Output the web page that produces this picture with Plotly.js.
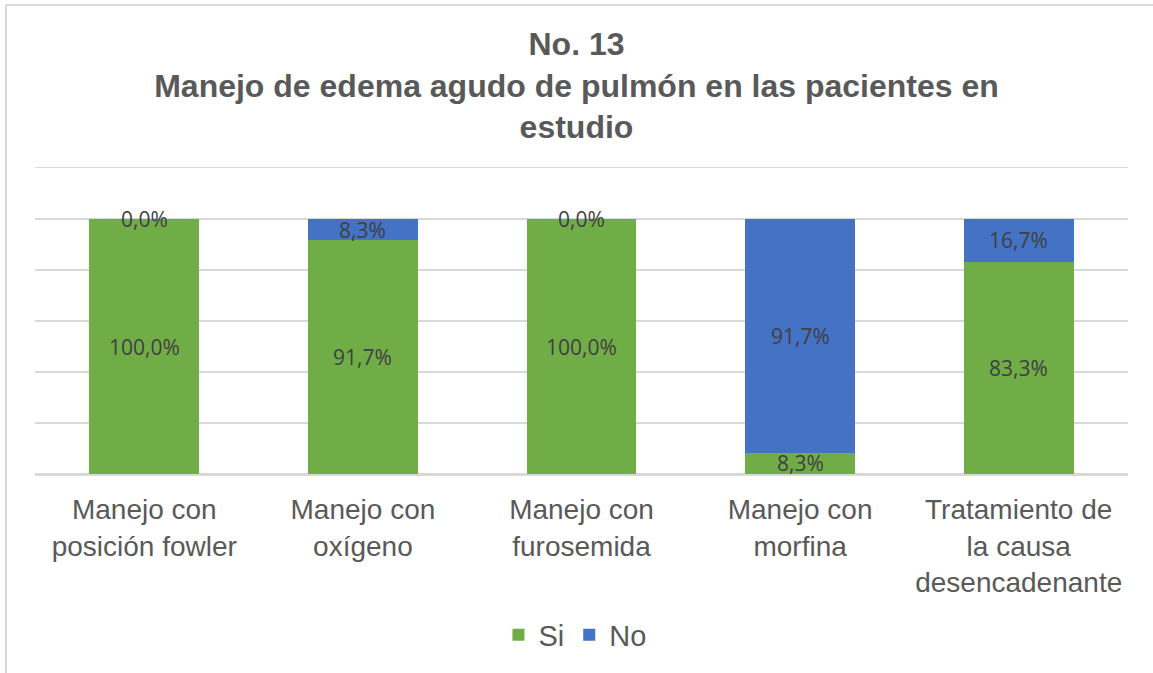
<!DOCTYPE html>
<html>
<head>
<meta charset="utf-8">
<script src="https://cdn.plot.ly/plotly-3.0.1.min.js"></script>
<style>
  body { margin: 0; background: #fff; }
  #wrap { position: relative; width: 1153px; height: 673px; }
  #frame { position: absolute; left: 5px; top: 4px; right: 0; bottom: 0;
           border-left: 2px solid #d9d9d9; border-top: 2px solid #d9d9d9; pointer-events: none; }
</style>
</head>
<body>
<div id="wrap">
  <div id="chart" style="width:1153px;height:673px;"></div>
  <div id="frame"></div>
</div>
<script>
// categories on the x axis (line breaks as in the original)
const categories = [
    'Manejo con<br>posición fowler',
    'Manejo con<br>oxígeno',
    'Manejo con<br>furosemida',
    'Manejo con<br>morfina',
    'Tratamiento de<br>la causa<br>desencadenante'
];

// percentages per series
const siValues = [100.0, 91.7, 100.0, 8.3, 83.3];
const noValues = [0.0, 8.3, 0.0, 91.7, 16.7];

const greenColor = '#70ad47';
const blueColor = '#4472c4';

function pct(v) {
    return v.toFixed(1).replace('.', ',') + '%';
}

const traceSi = {
    x: categories, y: siValues,
    type: 'bar', name: 'Si',
    marker: { color: greenColor, line: { width: 0 } },
    hoverinfo: 'skip'
};

const traceNo = {
    x: categories, y: noValues,
    type: 'bar', name: 'No',
    marker: { color: blueColor, line: { width: 0 } },
    hoverinfo: 'skip'
};

// data labels, centred in each stacked segment
const labelFont = { family: 'Open Sans, sans-serif', size: 21, color: '#404040' };
const annotations = [];
categories.forEach((cat, i) => {
    annotations.push({
        x: cat, y: siValues[i] / 2, text: pct(siValues[i]),
        showarrow: false, font: labelFont
    });
    annotations.push({
        x: cat, y: siValues[i] + noValues[i] / 2, text: pct(noValues[i]),
        showarrow: false, font: labelFont
    });
});

const layout = {
    width: 1153, height: 673,
    paper_bgcolor: '#ffffff',
    plot_bgcolor: '#ffffff',
    barmode: 'stack',
    bargap: 0.497,
    margin: { l: 35, r: 25, t: 168, b: 199 },
    title: {
        text: '<b>No. 13<br>Manejo de edema agudo de pulmón en las pacientes en<br>estudio</b>',
        font: { family: 'Liberation Sans, Arial, sans-serif', size: 32, color: '#595959' },
        x: 0.5, xanchor: 'center',
        yref: 'container', y: 0.918, yanchor: 'top'
    },
    xaxis: {
        showgrid: false,
        ticks: '',
        ticklabelstandoff: 10,
        tickfont: { family: 'Liberation Sans, Arial, sans-serif', size: 28, color: '#595959' },
        // top edge line stands in for the 120% gridline
        showline: true,
        mirror: true,
        linecolor: '#d9d9d9',
        linewidth: 1.5
    },
    yaxis: {
        range: [0, 120],
        dtick: 20,
        showticklabels: false,
        gridcolor: '#d9d9d9',
        gridwidth: 1.5,
        zeroline: true,
        zerolinecolor: '#d9d9d9',
        zerolinewidth: 1.5,
        fixedrange: true
    },
    showlegend: true,
    legend: {
        orientation: 'h',
        traceorder: 'normal',
        x: 0.494, xanchor: 'center',
        y: -0.526, yanchor: 'middle',
        font: { family: 'Liberation Sans, Arial, sans-serif', size: 29, color: '#595959' }
    },
    annotations: annotations
};

Plotly.newPlot('chart', [traceSi, traceNo], layout, { displayModeBar: false, staticPlot: true });
</script>
</body>
</html>
